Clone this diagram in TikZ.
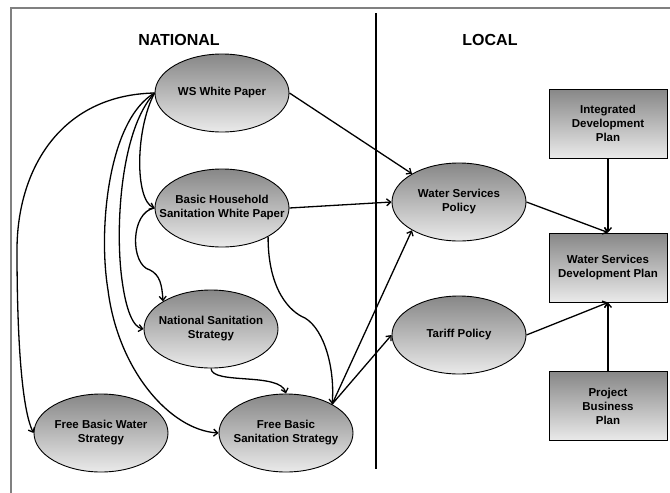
\documentclass[tikz,border=0pt]{standalone}
\usepackage{fontspec}
\setmainfont{Liberation Sans}
\usetikzlibrary{shapes.geometric,arrows.meta}
\definecolor{gtop}{RGB}{135,135,135}
\definecolor{gbot}{RGB}{234,234,234}
\definecolor{framegray}{RGB}{128,128,128}
\begin{document}
\begin{tikzpicture}[x=1pt,y=-1pt,
  ell/.style={ellipse,draw=black,line width=0.9pt,minimum width=134pt,minimum height=78pt,
    inner xsep=-30pt,inner ysep=0pt,top color=gtop,bottom color=gbot,
    font=\fontsize{11.5}{14}\selectfont\bfseries,align=center},
  box/.style={rectangle,draw=black,line width=1pt,minimum width=118pt,minimum height=69pt,
    inner sep=0pt,top color=gtop,bottom color=gbot,
    font=\fontsize{11.5}{14}\selectfont\bfseries,align=center},
  conn/.style={line width=1.3pt,-{Straight Barb[length=4pt,width=7pt]}},
  hdr/.style={font=\fontsize{16}{19}\selectfont\bfseries}]
\useasboundingbox (0,0) rectangle (670,493);
% frame and divider
\coordinate (fbl) at (11,493);
\coordinate (ftl) at (11,8);
\coordinate (ftr) at (670,8);
\draw[framegray,line width=1.2pt] (fbl) -- (ftl) -- (ftr);
\coordinate (dtop) at (375.5,13);
\coordinate (dbot) at (375.5,469);
\draw[line width=2pt] (dtop) -- (dbot);
% headers
\node[hdr] (national) at (179,40) {NATIONAL};
\node[hdr] (local) at (490,40) {LOCAL};
% ellipses
\node[ell] (ws) at (222,93) {WS White Paper};
\node[ell] (bh) at (222,208) {Basic Household\\Sanitation White Paper};
\node[ell] (nss) at (211,329) {National Sanitation\\Strategy};
\node[ell] (fbws) at (101,433) {Free Basic Water\\Strategy};
\node[ell] (fbss) at (286,433) {Free Basic\\Sanitation Strategy};
\node[ell] (wsp) at (459,202) {Water Services\\Policy};
\node[ell] (tp) at (459,335) {Tariff Policy};
% boxes
\node[box] (idp) at (608,123.5) {Integrated\\Development\\Plan};
\node[box] (wsdp) at (608,267.5) {Water Services\\Development Plan};
\node[box] (pbp) at (608,406) {Project\\Business\\Plan};
% connectors
\draw[conn] (ws.west) .. controls (60,95) and (17,170) .. (17,250) .. controls (17,340) and (22,410) .. (fbws.west);
\draw[conn] (ws.west) .. controls (108,120) and (98,230) .. (108,290) .. controls (118,370) and (170,430) .. (fbss.west);
\draw[conn] (ws.west) .. controls (120,130) and (115,230) .. (122,280) .. controls (126,310) and (133,327) .. (nss.west);
\draw[conn] (ws.west) .. controls (135,130) and (135,200) .. (bh.west);
\draw[conn] (bh.west) .. controls (130,212) and (130,265) .. (150,270) .. controls (160,275) and (162,285) .. (nss.150);
\draw[conn] (bh.-32) .. controls (268,290) and (290,312) .. (305,318) .. controls (325,330) and (335,370) .. (fbss.32);
\draw[conn] (nss.south) .. controls (212,385) and (280,372) .. (fbss.north);
\draw[conn] (fbss.32) -- (wsp.211);
\draw[conn] (fbss.32) -- (tp.west);
\draw[conn] (ws.east) -- (wsp.149);
\draw[conn] (bh.east) -- (wsp.west);
\draw[conn] (wsp.east) -- (wsdp.north);
\draw[conn] (idp.south) -- (wsdp.north);
\draw[conn] (tp.east) -- (wsdp.south);
\draw[conn] (pbp.north) -- (wsdp.south);
\end{tikzpicture}
\end{document}
